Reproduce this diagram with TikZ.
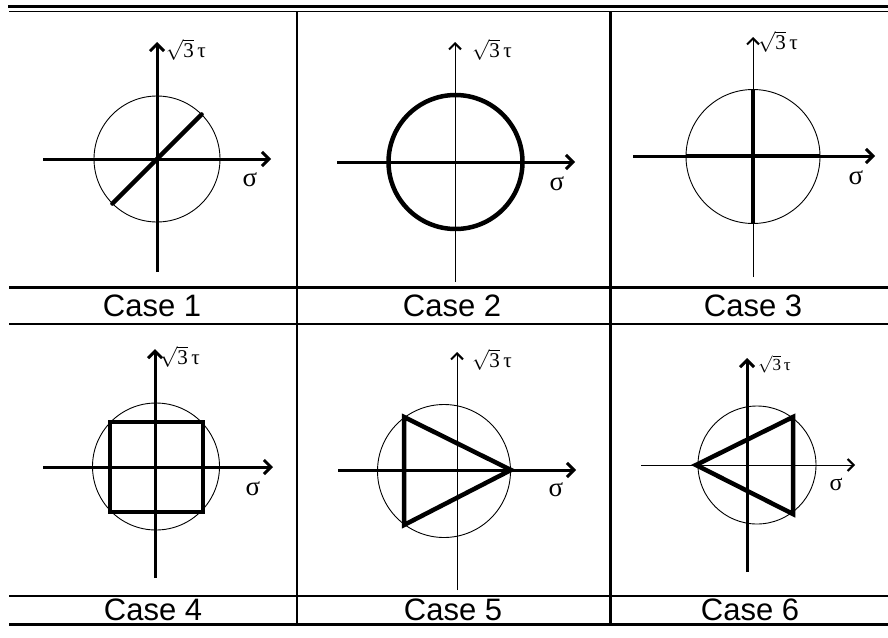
\documentclass[tikz,border=0pt]{standalone}
\usepackage{fontspec}
\setmainfont{Liberation Serif}
\setsansfont{Liberation Sans}
\usetikzlibrary{arrows.meta}
\newcommand\rthree{$\sqrt{\hbox{3}}$\,τ}
\begin{document}
\begin{tikzpicture}[x=1pt,y=-1pt,
  rule/.style={line width=2.5pt},
  thickax/.style={line width=3pt,-{Straight Barb[length=7pt,width=14pt]}},
  thinax/.style={line width=1pt,-{Straight Barb[length=6pt,width=12pt,line width=2pt]}},
  circ/.style={line width=0.9pt},
  locus/.style={line width=4.5pt,line join=round,line cap=round},
  caselbl/.style={font=\sffamily\fontsize{31}{31}\selectfont,anchor=base,inner sep=0pt},
  taulbl/.style={font=\fontsize{21}{21}\selectfont,anchor=west,inner sep=0pt},
  sigmalbl/.style={font=\fontsize{27}{27}\selectfont,inner sep=0pt},
]
\useasboundingbox (0,0) rectangle (888,637);
% table rules
\coordinate (tl1) at (8,6.5);   \coordinate (tr1) at (888,6.5);
\coordinate (tl2) at (9,11.5);  \coordinate (tr2) at (888,11.5);
\draw[line width=3pt] (tl1) -- (tr1);
\draw[line width=1.5pt] (tl2) -- (tr2);
\coordinate (h1l) at (9,287.5); \coordinate (h1r) at (888,287.5);
\coordinate (h2l) at (9,324);   \coordinate (h2r) at (888,324);
\coordinate (h3l) at (9,596);   \coordinate (h3r) at (888,596);
\coordinate (h4l) at (9,624);   \coordinate (h4r) at (888,624);
\draw[rule] (h1l) -- (h1r);
\draw[rule] (h2l) -- (h2r);
\draw[rule] (h3l) -- (h3r);
\draw[rule,line width=3pt] (h4l) -- (h4r);
\coordinate (v1t) at (297,12);  \coordinate (v1b) at (297,625);
\coordinate (v2t) at (610.5,12);\coordinate (v2b) at (610.5,625);
\draw[rule] (v1t) -- (v1b);
\draw[rule] (v2t) -- (v2b);
% case labels
\node[caselbl] (c1) at (152,316) {Case 1};
\node[caselbl] (c2) at (452,316) {Case 2};
\node[caselbl] (c3) at (753,316) {Case 3};
\node[caselbl] (c4) at (153,620) {Case 4};
\node[caselbl] (c5) at (453,620) {Case 5};
\node[caselbl] (c6) at (750,620) {Case 6};

% ---------- Case 1
\coordinate (o1) at (157,159);
\coordinate (y1a) at (157,272); \coordinate (y1b) at (157,42);
\coordinate (x1a) at (43,159);  \coordinate (x1b) at (271,159);
\draw[circ] (o1) circle[radius=63];
\draw[thickax] (y1a) -- (y1b);
\draw[thickax] (x1a) -- (x1b);
\path (o1) ++(135:63) coordinate (p1a) (o1) ++(-45:63) coordinate (p1b);
\draw[locus] (p1a) -- (p1b);
\node[taulbl] (t1) at (166,50) {\rthree};
\node[sigmalbl] (s1) at (250,180) {σ};

% ---------- Case 2
\coordinate (o2) at (455.5,162);
\coordinate (y2a) at (455,282); \coordinate (y2b) at (455,42);
\coordinate (x2a) at (337,162); \coordinate (x2b) at (575,162);
\draw[thinax] (y2a) -- (y2b);
\draw[thickax] (x2a) -- (x2b);
\draw[locus] (o2) circle[radius=67];
\node[taulbl] (t2) at (472,50) {\rthree};
\node[sigmalbl] (s2) at (557,184) {σ};

% ---------- Case 3
\coordinate (o3) at (753,156.5);
\coordinate (y3a) at (753,277); \coordinate (y3b) at (753,37);
\coordinate (x3a) at (633,156); \coordinate (x3b) at (875,156);
\draw[circ] (o3) circle[radius=67];
\draw[thinax] (y3a) -- (y3b);
\draw[thickax] (x3a) -- (x3b);
\coordinate (p3t) at (753,90);  \coordinate (p3b) at (753,223);
\coordinate (p3l) at (686,156); \coordinate (p3r) at (820,156);
\draw[locus,line cap=butt] (p3t) -- (p3b);
\draw[locus,line cap=butt] (p3l) -- (p3r);
\node[taulbl] (t3) at (758,42) {\rthree};
\node[sigmalbl] (s3) at (856,178) {σ};

% ---------- Case 4
\coordinate (o4) at (156,466.5);
\coordinate (y4a) at (155,578); \coordinate (y4b) at (155,349);
\coordinate (x4a) at (43,467);  \coordinate (x4b) at (273,467);
\draw[circ] (o4) circle[radius=63.5];
\draw[thickax] (y4a) -- (y4b);
\draw[thickax] (x4a) -- (x4b);
\coordinate (q4a) at (110,422); \coordinate (q4b) at (203,512);
\draw[locus,line width=4pt,line cap=butt,line join=miter] (q4a) rectangle (q4b);
\node[taulbl] (t4) at (160,357) {\rthree};
\node[sigmalbl] (s4) at (253,489) {σ};

% ---------- Case 5
\coordinate (o5) at (444,471);
\coordinate (y5a) at (457,590); \coordinate (y5b) at (457,352);
\coordinate (x5a) at (338,470); \coordinate (x5b) at (576,470);
\draw[circ] (o5) circle[radius=66.5];
\draw[thinax] (y5a) -- (y5b);
\draw[thickax] (x5a) -- (x5b);
\coordinate (r5a) at (511,470); \coordinate (r5b) at (404,417); \coordinate (r5c) at (404,525);
\draw[locus,line join=miter] (r5a) -- (r5b) -- (r5c) -- cycle;
\node[taulbl] (t5) at (472,360) {\rthree};
\node[sigmalbl] (s5) at (556,490) {σ};

% ---------- Case 6
\coordinate (o6) at (757,465);
\coordinate (y6a) at (747,572); \coordinate (y6b) at (747,358);
\coordinate (x6a) at (641,465); \coordinate (x6b) at (855,465);
\draw[circ] (o6) circle[radius=59];
\draw[thickax] (y6a) -- (y6b);
\draw[thinax] (x6a) -- (x6b);
\coordinate (r6a) at (696,465); \coordinate (r6b) at (793,417); \coordinate (r6c) at (793,514);
\draw[locus,line join=miter] (r6a) -- (r6b) -- (r6c) -- cycle;
\node[taulbl,font=\fontsize{17}{17}\selectfont] (t6) at (758,364) {\rthree};
\node[sigmalbl,font=\fontsize{24}{24}\selectfont] (s6) at (836,484) {σ};
\end{tikzpicture}
\end{document}
